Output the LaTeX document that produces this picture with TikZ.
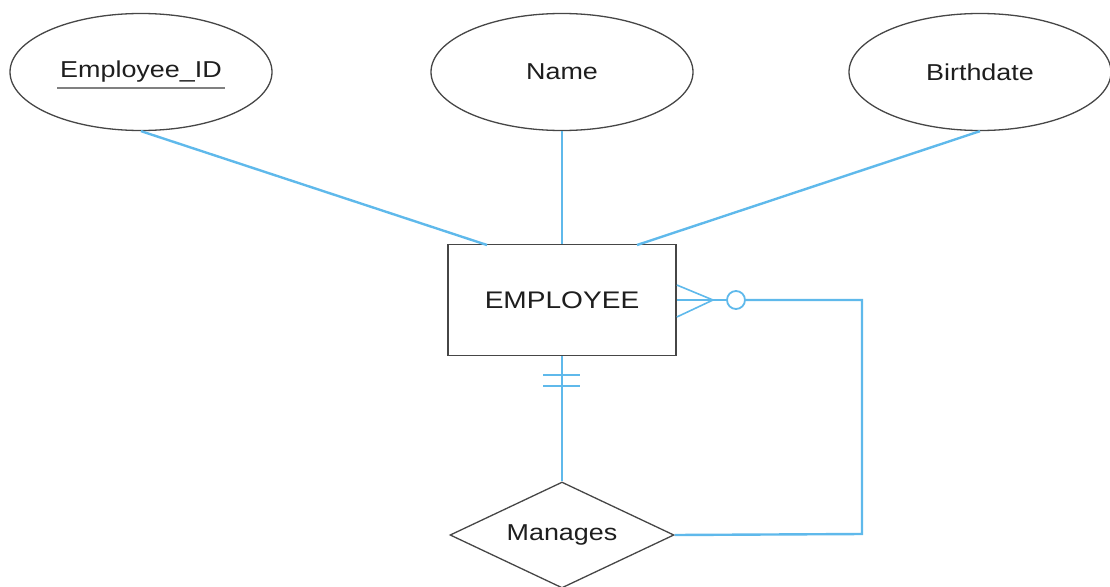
\documentclass[tikz,border=0pt]{standalone}
\usepackage{fontspec}
\setmainfont[FakeStretch=1.17]{Liberation Sans}
\usetikzlibrary{shapes.geometric,calc}
\definecolor{relblue}{RGB}{95,185,235}
\definecolor{shapegray}{RGB}{70,70,70}
\definecolor{txt}{RGB}{30,30,30}
\begin{document}
\begin{tikzpicture}[x=1pt,y=-1pt,
  attr/.style={ellipse,draw=shapegray,line width=1.3pt,minimum width=262pt,minimum height=117pt,inner sep=0pt,text=txt,font=\fontsize{23}{27}\selectfont},
  entity/.style={rectangle,draw=shapegray,line width=1.6pt,minimum width=228pt,minimum height=111pt,inner sep=0pt,text=txt,font=\fontsize{24}{28}\selectfont},
  rel/.style={diamond,aspect=2.1,draw=shapegray,line width=1.3pt,minimum width=224pt,minimum height=106pt,inner sep=0pt,text=txt,font=\fontsize{23}{27}\selectfont},
  conn/.style={draw=relblue,line width=2.4pt},
  thinconn/.style={draw=relblue,line width=1.6pt}]
\useasboundingbox (0,0) rectangle (1110,586);
\node[attr] (id) at (141,72) {Employee\_ID};
\node[attr] (name) at (562,72) {Name};
\node[attr] (birth) at (980,72) {Birthdate};
\node[entity] (emp) at (562,300) {EMPLOYEE};
\node[rel] (man) at (562,535) {Manages};
\coordinate (ulA) at (57,88);
\coordinate (ulB) at (225,88);
\draw[gray,line width=1.4pt] (ulA) -- (ulB);
\coordinate (idend) at (487,245);
\coordinate (bdend) at (637,245);
\coordinate (tip) at (713,300);
\coordinate (corner1) at (862,300);
\coordinate (corner2) at (862,534);
\draw[conn] (id.south) -- (idend);
\draw[conn] (name.south) -- (emp.north);
\draw[conn] (birth.south) -- (bdend);
\draw[conn] (emp.south) -- (man.north);
\draw[thinconn] (543,375) -- (580,375);
\draw[thinconn] (543,386) -- (580,386);
\draw[thinconn] ($(emp.east)+(0,-15)$) -- (tip);
\draw[thinconn] ($(emp.east)+(0,17)$) -- (tip);
\draw[conn] (emp.east) -- (tip) -- (727,300);
\node[circle,draw=relblue,line width=1.8pt,minimum size=18pt,inner sep=0pt] (zero) at (736,300) {};
\draw[conn] (zero.east) -- (corner1) -- (corner2) -- (man.east);
\end{tikzpicture}
\end{document}
